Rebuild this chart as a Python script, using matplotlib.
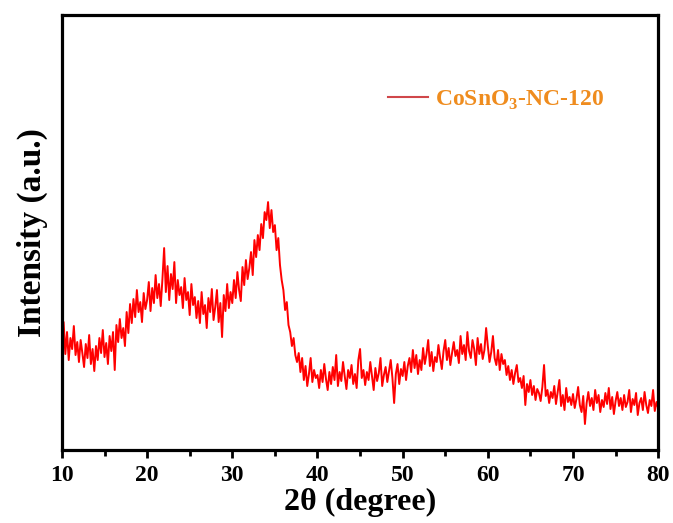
import numpy as np
import matplotlib
matplotlib.use('Agg')
import matplotlib.pyplot as plt

# 2theta grid, step 0.2 degree
two_theta = np.arange(10, 80.001, 0.2)

# intensity (arbitrary units)
intensity = [
    105, 128, 96, 118, 90, 112, 101, 124, 95, 108,
    88, 110, 97, 83, 106, 92, 115, 86, 101, 79,
    104, 90, 112, 97, 120, 93, 107, 86, 114, 99,
    118, 80, 125, 108, 131, 112, 122, 104, 138, 117,
    146, 127, 151, 133, 160, 138, 148, 128, 157, 141,
    150, 168, 139, 162, 147, 175, 152, 166, 144, 171,
    202, 158, 184, 150, 176, 161, 188, 147, 170, 155,
    163, 142, 172, 150, 158, 135, 166, 145, 153, 132,
    149, 127, 158, 136, 145, 122, 152, 138, 161, 130,
    143, 160, 128, 147, 113, 155, 139, 166, 142, 158,
    147, 170, 152, 178, 160, 149, 183, 165, 190, 171,
    182, 198, 175, 210, 193,
    215, 200, 226, 212, 238,
    230, 248, 222, 240, 218,
    225, 200, 212, 185, 170,
    160, 140, 148, 125, 118,
    104, 112, 95, 88, 97,
    78, 92, 70, 84, 64, 76, 92, 68, 80, 72,
    75, 62, 80, 68, 86, 71, 60, 78, 66, 83,
    70, 95, 64, 78, 69, 88, 74, 61, 80, 72,
    85, 66, 76, 62, 90, 101, 72, 80, 65, 78,
    70, 88, 74, 60, 82, 69, 77, 92, 64, 75,
    83, 68, 79, 90, 72, 47, 76, 86, 66, 81,
    74, 88, 70, 84, 92, 78, 100, 82, 95, 76,
    90, 80, 102, 86, 96, 110, 84, 98, 79, 93,
    88, 105, 92, 81, 99, 110, 90, 102, 85, 97,
    108, 94, 100, 87, 114, 96, 105, 90, 118, 99,
    92, 110, 101, 85, 112, 96, 106, 91, 100, 122,
    104, 88, 98, 114, 92, 85, 100, 80, 96, 86,
    90, 75, 84, 70, 80, 66, 77, 85, 68, 72,
    62, 74, 45, 66, 58, 70, 55, 64, 50, 61,
    57, 49, 63, 85, 54, 60, 47, 58, 52, 64,
    46, 58, 70, 44, 55, 40, 62, 48, 53, 45,
    56, 42, 51, 63, 45, 38, 54, 26, 47, 58,
    44, 52, 40, 60, 47, 55, 38, 50, 43, 57,
    46, 62, 41, 53, 36, 49, 58, 44, 52, 40,
    55, 43, 48, 60, 38, 51, 45, 57, 35, 47,
    52, 40, 58, 45, 37, 50, 44, 60, 39, 48,
    42,
]

label = r'CoSnO$_\mathbf{3}$-NC-120'

plt.rcParams['font.family'] = ['Liberation Serif', 'DejaVu Serif']
plt.rcParams['font.weight'] = 'bold'
plt.rcParams['mathtext.fontset'] = 'custom'
plt.rcParams['mathtext.bf'] = 'Liberation Serif:bold'
plt.rcParams['mathtext.rm'] = 'Liberation Serif:bold'

fig = plt.figure(figsize=(6.73, 5.23), dpi=100)
ax = fig.add_axes([0.092, 0.1396, 0.886, 0.8314])

ax.plot(two_theta, intensity, color='#ff0000', lw=1.4, label=label)

ax.set_xlim(10, 80)
ax.set_ylim(0, 435)
ax.set_xticks(range(10, 81, 10))
ax.set_xticks(range(15, 80, 10), minor=True)
ax.set_yticks([])
for s in ax.spines.values():
    s.set_linewidth(2.3)
ax.tick_params(axis='x', which='major', direction='out', length=6, width=2,
               labelsize=17, pad=5)
ax.tick_params(axis='x', which='minor', direction='out', length=4, width=2)
for t in ax.get_xticklabels():
    t.set_fontweight('bold')

ax.set_xlabel(r'2θ (degree)', fontsize=23, fontweight='bold', labelpad=1)
ax.set_ylabel('Intensity (a.u.)', fontsize=24, fontweight='bold', labelpad=10)

leg = ax.legend(loc='center left', bbox_to_anchor=(0.527, 0.805), frameon=False,
                handlelength=1.7, handletextpad=0.3, borderpad=0,
                labelcolor='#ef8c1e', prop={'weight': 'bold', 'size': 17})
leg.get_lines()[0].set_color('#d0474a')
leg.get_lines()[0].set_linewidth(1.5)

fig.savefig('out.png', dpi=100)
